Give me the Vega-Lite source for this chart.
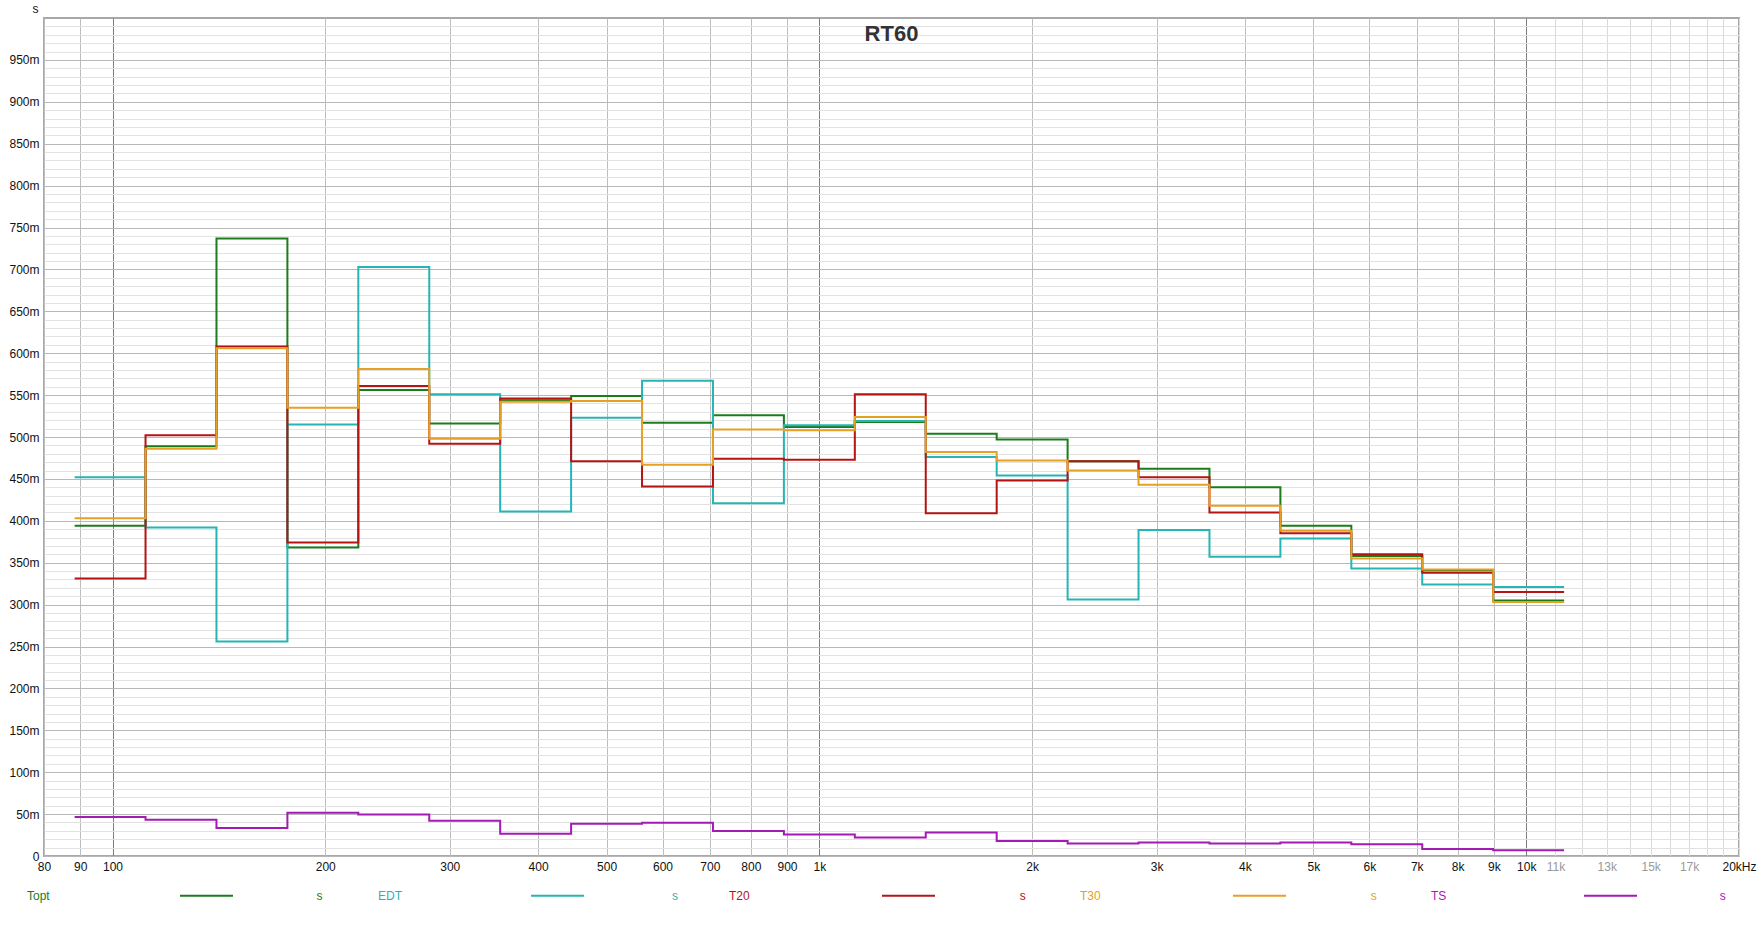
{
  "$schema": "https://vega.github.io/schema/vega-lite/v6.json",
  "width": 1695,
  "height": 838,
  "autosize": {"type": "none"},
  "padding": {"left": 44, "top": 18, "right": 22, "bottom": 76},
  "background": "white",
  "config": {
    "font": "Liberation Sans",
    "view": {"stroke": "#a8a8a8", "strokeWidth": 2}
  },
  "title": {"text": "RT60", "anchor": "middle", "offset": -61, "baseline": "alphabetic", "fontSize": 22, "fontWeight": "bold", "color": "#333333", "font": "Liberation Sans"},
  "data": {"values": [
    {"f": 88.39, "Topt": 394, "EDT": 452, "T20": 331, "T30": 403, "TS": 46.5},
    {"f": 111.36, "Topt": 489, "EDT": 392, "T20": 502, "T30": 486, "TS": 43.3},
    {"f": 140.31, "Topt": 737, "EDT": 256, "T20": 608, "T30": 606, "TS": 33.5},
    {"f": 176.78, "Topt": 368, "EDT": 515, "T20": 374, "T30": 535, "TS": 51.6},
    {"f": 222.72, "Topt": 556, "EDT": 703, "T20": 561, "T30": 581, "TS": 49.6},
    {"f": 280.62, "Topt": 516, "EDT": 551, "T20": 492, "T30": 498, "TS": 42},
    {"f": 353.55, "Topt": 544, "EDT": 411, "T20": 546, "T30": 542, "TS": 26.6},
    {"f": 445.45, "Topt": 549, "EDT": 523, "T20": 471, "T30": 543, "TS": 38.6},
    {"f": 561.23, "Topt": 517, "EDT": 567, "T20": 441, "T30": 467, "TS": 39.8},
    {"f": 707.11, "Topt": 526, "EDT": 421, "T20": 474, "T30": 509, "TS": 29.9},
    {"f": 890.9, "Topt": 512, "EDT": 514, "T20": 473, "T30": 508, "TS": 25.8},
    {"f": 1122.46, "Topt": 518, "EDT": 519, "T20": 551, "T30": 524, "TS": 22},
    {"f": 1414.21, "Topt": 504, "EDT": 476, "T20": 409, "T30": 482, "TS": 28},
    {"f": 1781.8, "Topt": 497, "EDT": 454, "T20": 448, "T30": 472, "TS": 18},
    {"f": 2244.92, "Topt": 471, "EDT": 306, "T20": 471, "T30": 460, "TS": 14.8},
    {"f": 2828.43, "Topt": 462, "EDT": 389, "T20": 452, "T30": 443, "TS": 16},
    {"f": 3563.59, "Topt": 440, "EDT": 357, "T20": 410, "T30": 418, "TS": 14.8},
    {"f": 4489.85, "Topt": 394, "EDT": 379, "T20": 385, "T30": 388, "TS": 16},
    {"f": 5656.85, "Topt": 358, "EDT": 343, "T20": 360, "T30": 355, "TS": 14},
    {"f": 7127.19, "Topt": 341, "EDT": 324, "T20": 338, "T30": 342, "TS": 8.4},
    {"f": 8979.7, "Topt": 305, "EDT": 321, "T20": 315, "T30": 303, "TS": 6.8},
    {"f": 11313.71, "Topt": 305, "EDT": 321, "T20": 315, "T30": 303, "TS": 6.8}
  ]},
  "transform": [{"fold": ["Topt", "EDT", "T20", "T30", "TS"], "as": ["series", "rt"]}],
  "mark": {"type": "line", "interpolate": "step-after", "strokeWidth": 2},
  "encoding": {
    "x": {
      "field": "f", "type": "quantitative",
      "scale": {"type": "log", "domain": [80, 20000], "nice": false},
      "axis": {
        "title": null,
        "values": [80, 90, 100, 200, 300, 400, 500, 600, 700, 800, 900, 1000, 2000, 3000, 4000, 5000, 6000, 7000, 8000, 9000, 10000, 11000, 12000, 13000, 14000, 15000, 16000, 17000, 18000, 19000, 20000],
        "labelExpr": "datum.value == 20000 ? '20kHz' : (datum.value == 12000 || datum.value == 14000 || datum.value == 16000 || datum.value >= 18000) ? '' : datum.value >= 1000 ? (datum.value / 1000) + 'k' : '' + datum.value",
        "labelOverlap": false,
        "labelFlush": false,
        "labelBound": false,
        "labelFontSize": 12,
        "labelFont": "Liberation Sans",
        "labelColor": {"condition": {"test": "datum.value > 10000 && datum.value < 20000", "value": "#9a9a9a"}, "value": "#111111"},
        "labelPadding": 5,
        "ticks": false,
        "domain": false,
        "grid": true,
        "gridOpacity": 1,
        "gridWidth": 1,
        "gridColor": {"condition": [
          {"test": "datum.value == 100 || datum.value == 1000 || datum.value == 10000", "value": "#7c7c7c"},
          {"test": "datum.value > 10000", "value": "#dadada"}
        ], "value": "#bdbdbd"}
      }
    },
    "y": {
      "field": "rt", "type": "quantitative",
      "scale": {"domain": [0, 1000], "nice": false},
      "axis": {
        "title": "s",
        "titleAngle": 0,
        "titleX": -9,
        "titleY": -10,
        "titleAlign": "center",
        "titleBaseline": "middle",
        "titleFontWeight": "normal",
        "titleFontSize": 12,
        "titleFont": "Liberation Sans",
        "titleColor": "#111111",
        "values": [0, 10, 20, 30, 40, 50, 60, 70, 80, 90, 100, 110, 120, 130, 140, 150, 160, 170, 180, 190, 200, 210, 220, 230, 240, 250, 260, 270, 280, 290, 300, 310, 320, 330, 340, 350, 360, 370, 380, 390, 400, 410, 420, 430, 440, 450, 460, 470, 480, 490, 500, 510, 520, 530, 540, 550, 560, 570, 580, 590, 600, 610, 620, 630, 640, 650, 660, 670, 680, 690, 700, 710, 720, 730, 740, 750, 760, 770, 780, 790, 800, 810, 820, 830, 840, 850, 860, 870, 880, 890, 900, 910, 920, 930, 940, 950, 960, 970, 980, 990],
        "labelExpr": "datum.value % 50 != 0 ? '' : datum.value == 0 ? '0' : datum.value + 'm'",
        "labelOverlap": false,
        "labelBound": false,
        "labelFontSize": 12,
        "labelFont": "Liberation Sans",
        "labelColor": "#111111",
        "labelPadding": 5,
        "ticks": false,
        "domain": false,
        "grid": true,
        "gridOpacity": 1,
        "gridWidth": 1,
        "gridColor": {"condition": {"test": "datum.value % 50 == 0", "value": "#b8b8b8"}, "value": "#e2e2e2"}
      }
    },
    "color": {
      "field": "series", "type": "nominal",
      "scale": {"domain": ["Topt", "EDT", "T20", "T30", "TS"], "range": ["#1a7d1a", "#26b5b5", "#b41414", "#e6a024", "#a41ab4"]},
      "legend": {
        "title": null,
        "orient": "none",
        "legendX": 135,
        "legendY": 850,
        "direction": "horizontal",
        "columns": 5,
        "gridAlign": "all",
        "columnPadding": 50,
        "padding": 0,
        "symbolType": "stroke",
        "symbolSize": 2809,
        "symbolStrokeWidth": 2,
        "symbolOffset": 0,
        "labelOffset": -207,
        "labelLimit": 500,
        "labelFontSize": 12,
        "labelFont": "Liberation Sans",
        "labelExpr": "pad(datum.label, 84, '\u00a0', 'right') + 's'",
        "encode": {"labels": {"update": {"fill": {"scale": "color", "field": "value"}}}}
      }
    }
  }
}
